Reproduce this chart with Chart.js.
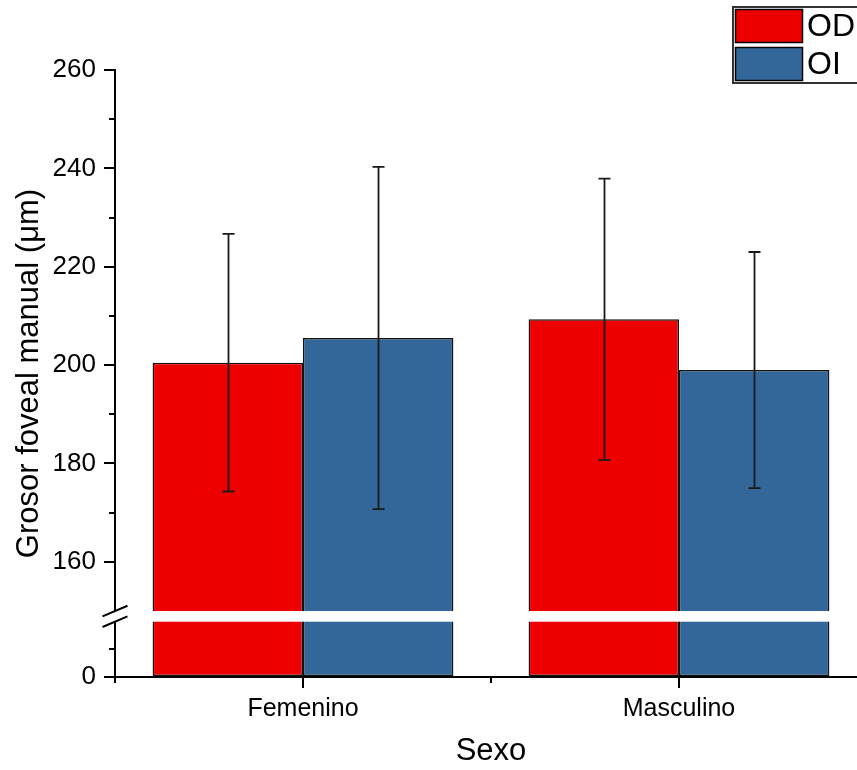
<!DOCTYPE html>
<html lang="es">
<head>
<meta charset="utf-8">
<title>Grosor foveal manual por sexo</title>
<script src="https://cdn.jsdelivr.net/npm/chart.js@4.4.1/dist/chart.umd.min.js"></script>
<style>
  html, body { margin: 0; padding: 0; background: #fff; overflow: hidden; }
  #wrap { width: 900px; height: 770px; }
</style>
</head>
<body>
<div id="wrap"><canvas id="c" width="900" height="770"></canvas></div>
<script>
// Data
const categories = ['Femenino', 'Masculino'];
const odMeans  = [200.5, 209.3];
const odErrors = [26.2, 28.6];
const oiMeans  = [205.5, 199.0];
const oiErrors = [34.8, 24.0];
const yTickValues  = [0, 160, 180, 200, 220, 240, 260];
const yMinorValues = [5, 170, 190, 210, 230, 250];
const axisBreakFrom = 10;
const axisBreakTo = 150;

const FONT = '"Liberation Sans", Arial, Helvetica, sans-serif';
const RED = '#EE0000';
const BLUE = '#336699';

// Linear scale with a broken section between axisBreak.from and axisBreak.to
class BrokenLinearScale extends Chart.LinearScale {
  buildTicks() {
    return this.options.tickValues.map(v => ({ value: v }));
  }
  _parts() {
    const b = this.options.axisBreak;
    const h = this.bottom - this.top;
    const lowH = h * b.lowerWeight;
    const gapH = h * b.gapWeight;
    return { b, lowH, gapH, upH: h - lowH - gapH };
  }
  getPixelForValue(value) {
    if (value === null || value === undefined || isNaN(value)) return NaN;
    const { b, lowH, gapH, upH } = this._parts();
    let off;
    if (value <= b.from) off = (value - this.min) / (b.from - this.min) * lowH;
    else if (value < b.to) off = lowH + (value - b.from) / (b.to - b.from) * gapH;
    else off = lowH + gapH + (value - b.to) / (this.max - b.to) * upH;
    return this.bottom - off;
  }
  getValueForPixel(pixel) {
    const { b, lowH, gapH, upH } = this._parts();
    const off = this.bottom - pixel;
    if (off <= lowH) return this.min + off / lowH * (b.from - this.min);
    if (off < lowH + gapH) return b.from + (off - lowH) / gapH * (b.to - b.from);
    return b.to + (off - lowH - gapH) / upH * (this.max - b.to);
  }
}
BrokenLinearScale.id = 'brokenLinear';
BrokenLinearScale.defaults = Chart.LinearScale.defaults;
Chart.register(BrokenLinearScale);

// Error bars with caps
const errorBars = {
  id: 'errorBars',
  afterDatasetsDraw(chart) {
    const { ctx } = chart;
    const y = chart.scales.y;
    ctx.save();
    ctx.strokeStyle = '#1a1a1a';
    ctx.lineWidth = 1.8;
    chart.data.datasets.forEach((ds, i) => {
      const meta = chart.getDatasetMeta(i);
      meta.data.forEach((bar, j) => {
        const v = ds.data[j], e = ds.errors[j];
        const x = Math.round(bar.x) + 0.5;
        const yt = y.getPixelForValue(v + e);
        const yb = y.getPixelForValue(v - e);
        ctx.beginPath();
        ctx.moveTo(x, yt); ctx.lineTo(x, yb);
        ctx.moveTo(x - 6, yt); ctx.lineTo(x + 6, yt);
        ctx.moveTo(x - 6, yb); ctx.lineTo(x + 6, yb);
        ctx.stroke();
      });
    });
    ctx.restore();
  }
};

// Break band, break marks, minor ticks and legend
const axisDecor = {
  id: 'axisDecor',
  afterDatasetsDraw(chart) {
    const { ctx, chartArea: a } = chart;
    const y = chart.scales.y, x = chart.scales.x;
    const yHi = y.getPixelForValue(axisBreakTo);
    const yLo = y.getPixelForValue(axisBreakFrom);
    ctx.save();
    ctx.fillStyle = '#fff';
    ctx.fillRect(a.left - 3, yHi, a.right - a.left + 3, yLo - yHi);

    ctx.strokeStyle = '#000';
    ctx.lineWidth = 2;
    [yHi, yLo].forEach(py => {
      ctx.beginPath();
      ctx.moveTo(a.left - 12.5, py + 5.3);
      ctx.lineTo(a.left + 12.5, py - 5.3);
      ctx.stroke();
    });

    // minor ticks on y
    yMinorValues.forEach(v => {
      const py = Math.round(y.getPixelForValue(v));
      ctx.beginPath();
      ctx.moveTo(a.left, py);
      ctx.lineTo(a.left - 6, py);
      ctx.stroke();
    });
    // minor ticks on x at category boundaries
    const n = categories.length;
    for (let i = 0; i <= n; i++) {
      const px = Math.round(x.getPixelForValue(i - 0.5));
      ctx.beginPath();
      ctx.moveTo(px, a.bottom);
      ctx.lineTo(px, a.bottom + 6);
      ctx.stroke();
    }
    ctx.restore();
  },
  afterDraw(chart) {
    const { ctx } = chart;
    const ds = chart.data.datasets;
    ctx.save();
    ctx.fillStyle = '#fff';
    ctx.fillRect(733, 7, 160, 76);
    ctx.strokeStyle = '#333';
    ctx.lineWidth = 2;
    ctx.strokeRect(733, 7, 160, 76);
    const rows = [{ y: 9, h: 34 }, { y: 47, h: 34 }];
    ds.forEach((d, i) => {
      const r = rows[i];
      ctx.fillStyle = d.backgroundColor;
      ctx.fillRect(735, r.y, 68, r.h);
      ctx.strokeStyle = '#000';
      ctx.lineWidth = 1.5;
      ctx.strokeRect(735.5, r.y + 0.5, 67, r.h - 1);
      ctx.fillStyle = '#000';
      ctx.font = '32px ' + FONT;
      ctx.textBaseline = 'middle';
      ctx.textAlign = 'left';
      ctx.fillText(d.label, 807, r.y + r.h / 2 + 1);
    });
    ctx.restore();
  }
};

new Chart(document.getElementById('c'), {
  type: 'bar',
  data: {
    labels: categories,
    datasets: [
      { label: 'OD', data: odMeans, errors: odErrors, backgroundColor: RED },
      { label: 'OI', data: oiMeans, errors: oiErrors, backgroundColor: BLUE }
    ]
  },
  options: {
    responsive: false,
    animation: false,
    events: [],
    layout: { padding: { top: 70, right: 33, left: 0, bottom: 0 } },
    datasets: {
      bar: {
        borderColor: '#111',
        borderWidth: 1.5,
        borderSkipped: false,
        barPercentage: 1,
        categoryPercentage: 0.8
      }
    },
    plugins: { legend: { display: false }, tooltip: { enabled: false } },
    scales: {
      x: {
        type: 'category',
        offset: true,
        afterFit: s => { s.height = 93; },
        border: { display: true, color: '#000', width: 2 },
        grid: { offset: false, drawOnChartArea: false, drawTicks: true, tickLength: 11, color: '#000', lineWidth: 2 },
        ticks: { color: '#000', font: { family: FONT, size: 25 }, padding: 6, maxRotation: 0 },
        title: { display: true, text: 'Sexo', color: '#000', font: { family: FONT, size: 31 }, padding: { top: 0, bottom: 0 } }
      },
      y: {
        type: 'brokenLinear',
        min: 0,
        max: 260,
        tickValues: yTickValues,
        axisBreak: { from: axisBreakFrom, to: axisBreakTo, lowerWeight: 0.0911, gapWeight: 0.0176 },
        afterFit: s => { s.width = 115; },
        border: { display: true, color: '#000', width: 2 },
        grid: { drawOnChartArea: false, drawTicks: true, tickLength: 11, color: '#000', lineWidth: 2 },
        ticks: { color: '#000', font: { family: FONT, size: 26 }, padding: 8, autoSkip: false },
        title: { display: true, text: 'Grosor foveal manual (μm)', color: '#000', font: { family: FONT, size: 31 }, padding: { top: 11, bottom: 0 } }
      }
    }
  },
  plugins: [errorBars, axisDecor]
});
</script>
</body>
</html>
